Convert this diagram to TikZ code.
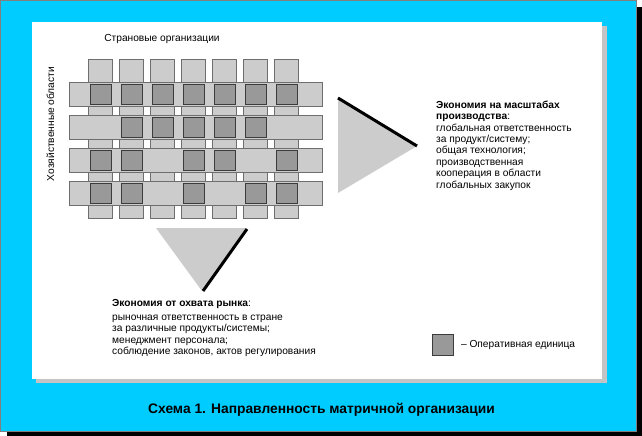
\documentclass[tikz,border=0pt]{standalone}
\usepackage{fontspec}
\setmainfont{Liberation Sans}
\definecolor{cyanbg}{HTML}{00CCFF}
\definecolor{lgray}{HTML}{CCCCCC}
\definecolor{dgray}{HTML}{999999}
\definecolor{edge}{HTML}{6E6E6E}
\definecolor{dedge}{HTML}{3C3C3C}
\definecolor{shadowgray}{HTML}{C4C4C4}
\begin{document}
\begin{tikzpicture}[x=1pt,y=-1pt,
  lite/.style={fill=lgray,draw=edge,line width=0.7pt},
  unit/.style={fill=dgray,draw=dedge,line width=0.8pt},
  tri/.style={fill=lgray},
  edgeline/.style={line width=3pt,black},
  txt/.style={font=\fontsize{10.2}{11.4}\selectfont,inner sep=0pt,align=left},
  captxt/.style={font=\bfseries\fontsize{13.8}{16}\selectfont,inner sep=0pt}]
\useasboundingbox (0,0) rectangle (642,436);
% frame
\fill[black] (7,7) rectangle (642,436);
\filldraw[fill=cyanbg,draw=gray,line width=1pt] (0.5,0.5) rectangle (636,431);
\fill[shadowgray] (36,26) rectangle (607,383);
\fill[white] (32,22) rectangle (602,379);
% vertical strips (country organisations)
\foreach \i in {0,...,6}
  \draw[lite] ({88+31*\i},59) rectangle ({112+31*\i},218);
% horizontal strips (business areas)
\foreach \j in {0,...,3}
  \draw[lite] (69,{82+33*\j}) rectangle (322,{106+33*\j});
% operative units
\foreach \c/\r in {1/1,2/1,3/1,4/1,5/1,6/1,7/1,
                   2/2,3/2,4/2,5/2,6/2,
                   1/3,2/3,4/3,5/3,7/3,
                   1/4,2/4,4/4,6/4,7/4}
  \draw[unit] ({90+31*(\c-1)},{84+33*(\r-1)}) rectangle +(21,20);
% triangles
\fill[tri] (338,98) -- (417,146) -- (338,193) -- cycle;
\draw[edgeline] (338,98) -- (417,146);
\fill[tri] (156,228) -- (246,228) -- (202,291) -- cycle;
\draw[edgeline] (247,229) -- (203,291);
% labels
\node[txt,anchor=base] (title) at (162,41.5) {Страновые организации};
\node[txt,rotate=90,anchor=base] (areas) at (54,124) {Хозяйственные области};
\node[txt,anchor=base west] (scale) at (436,188)
  {\textbf{Экономия на масштабах}\\
   \textbf{производства}:\\
   глобальная ответственность\\
   за продукт/систему;\\
   общая технология;\\
   производственная\\
   кооперация в области\\
   глобальных закупок};
\node[txt,anchor=base west] (market) at (112,354.5)
  {\textbf{Экономия от охвата рынка}:\\[2pt]
   рыночная ответственность в стране\\
   за различные продукты/системы;\\
   менеджмент персонала;\\
   соблюдение законов, актов регулирования};
% legend
\node[unit,minimum width=21,minimum height=21,anchor=north west,inner sep=0pt] (legbox) at (432,334) {};
\node[txt,anchor=west] (legtxt) at ([xshift=7pt]legbox.east) {– Оперативная единица};
% caption
\node[captxt,anchor=base west] (caption) at (148,413) {Схема 1. Направленность матричной организации};
\end{tikzpicture}
\end{document}
